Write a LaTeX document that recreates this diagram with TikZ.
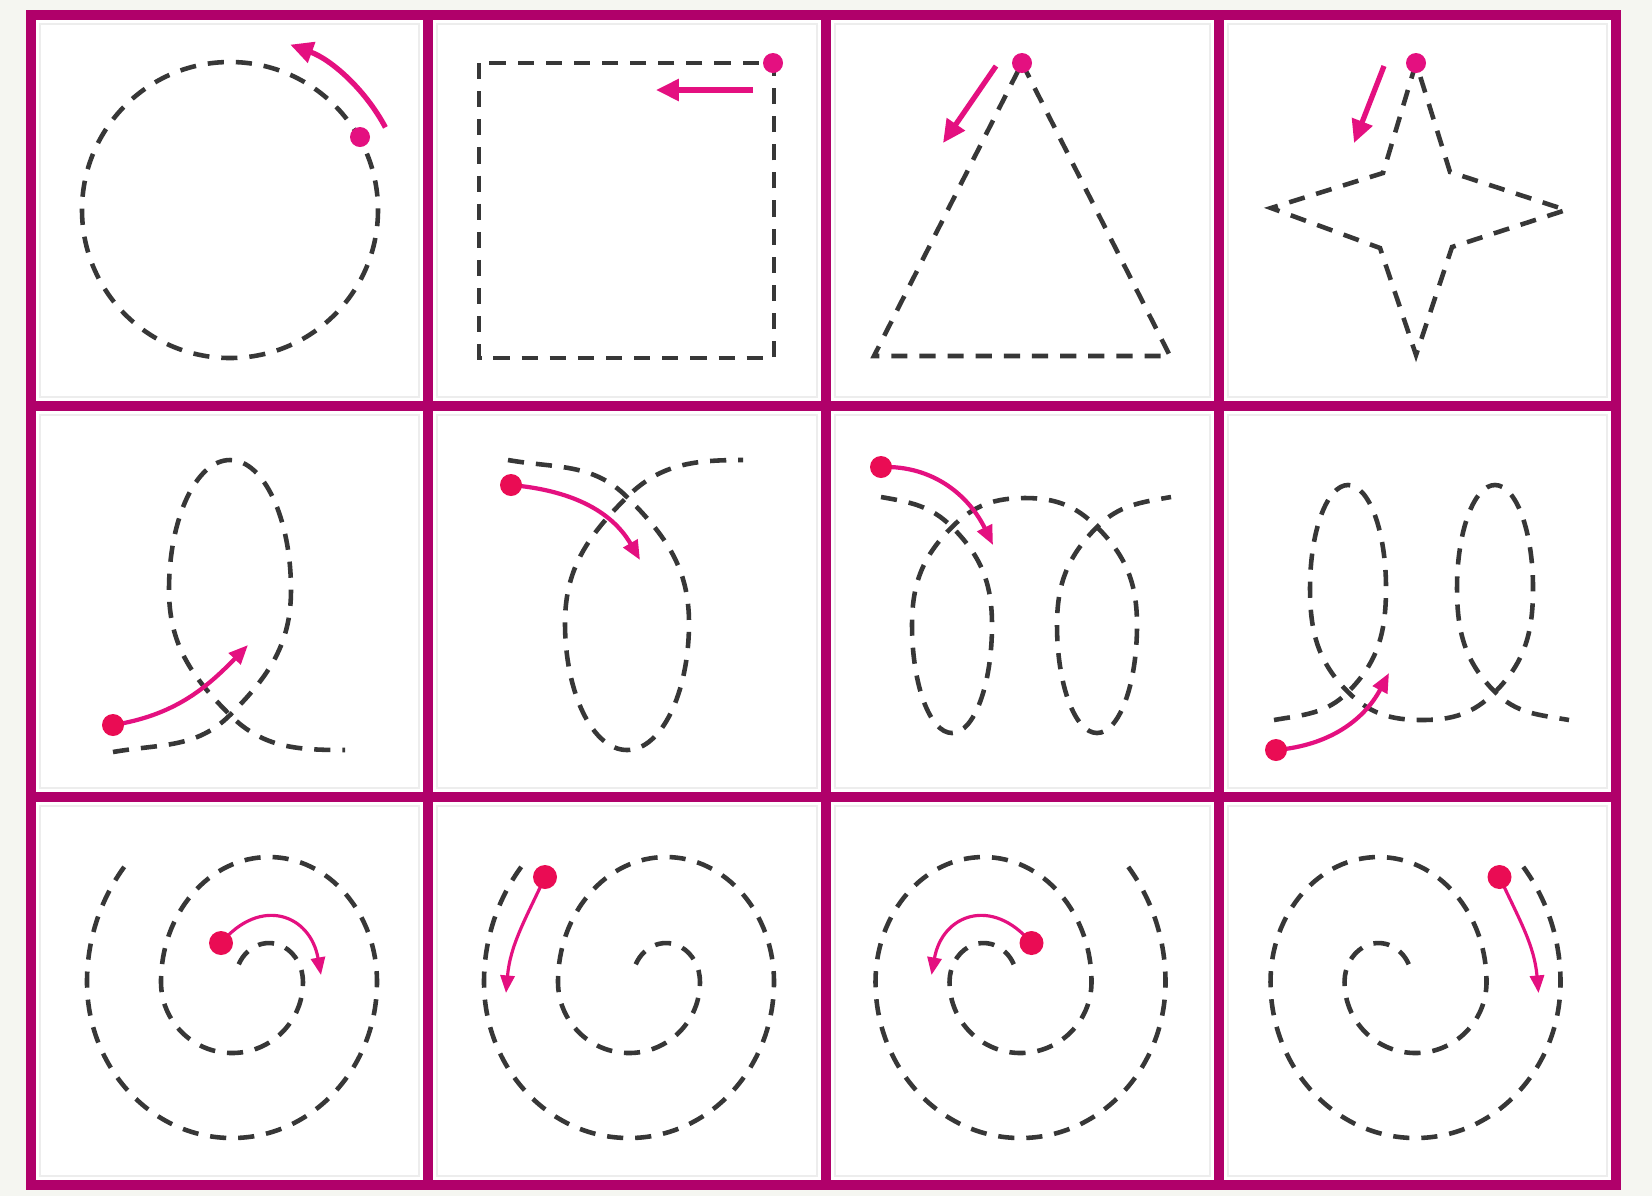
\documentclass[tikz,border=0pt]{standalone}
\usetikzlibrary{arrows.meta}
\definecolor{framemag}{RGB}{176,0,106}
\definecolor{tracegray}{RGB}{55,55,55}
\definecolor{guidepink}{RGB}{228,16,128}
\definecolor{dotred}{RGB}{234,12,84}
\definecolor{paper}{RGB}{245,246,241}

% one spiral, centred on its cell
\newcommand{\spiralpath}{(8.7,-26.7)
  arc[start angle=-153, end angle=0, x radius=34, y radius=39]
  arc[start angle=0, end angle=180, x radius=71, y radius=71]
  arc[start angle=180, end angle=360, x radius=108, y radius=125]
  arc[start angle=0, end angle=180, x radius=145, y radius=156]
  arc[start angle=180, end angle=218, x radius=182, y radius=190]}

\begin{document}
\begin{tikzpicture}[x=0.01cm, y=0.01cm, yscale=-1,
    frame/.style={line width=2.9pt, framemag},
    card/.style={draw=gray!14, line width=0.8pt, fill=white},
    trace/.style={tracegray, line width=1.3pt, dash pattern=on 4.6pt off 3.4pt},
    guide/.style={guidepink, line width=1.5pt, -{Triangle[length=6.5pt, width=6pt]}},
    loopguide/.style={guide, line width=1.2pt, -{Triangle[length=5.5pt, width=4.5pt]}},
    spiralguide/.style={guide, line width=0.9pt, -{Triangle[length=5pt, width=4pt]}},
    startdot/.style={fill=guidepink},
    bigdot/.style={fill=dotred}
]
    \useasboundingbox (0,0) rectangle (1652,1196);
    \fill[paper] (0,0) rectangle (1652,1196);
    \fill[white] (31,15) rectangle (1616,1185);

    % Cells
    \foreach \xa/\xb in {31/428, 428/826, 826/1219, 1219/1616}
      \foreach \ya/\yb in {15/406, 406/797, 797/1185}
        \draw[card] ({\xa+9},{\ya+9}) rectangle ({\xb-9},{\yb-9});

    % Grid
    \draw[frame] (31,15) rectangle (1616,1185);
    \foreach \x in {428,826,1219} \draw[frame] (\x,15) -- (\x,1185);
    \foreach \y in {406,797} \draw[frame] (31,\y) -- (1616,\y);

    % Row 1: circle, square, triangle, star
    \coordinate (c1) at (230,210);
    \draw[trace] (c1) circle[radius=148];
    \draw[guide] (c1) ++(-28:176) arc[start angle=-28, end angle=-70, radius=176];
    \fill[startdot] (360,137) circle[radius=10];

    \draw[trace] (479,63) rectangle (774,358);
    \draw[guide] (753,90) -- (656,90);
    \fill[startdot] (773,63) circle[radius=10];

    \draw[trace] (1022,63) -- (1170,356) -- (874,356) -- cycle;
    \draw[guide] (996,66) -- (943,143);
    \fill[startdot] (1022,63) circle[radius=10];

    \draw[trace] (1416,63) -- (1383,173) -- (1271,208) -- (1380,248) -- (1416,355)
      -- (1452,247) -- (1566,210) -- (1450,172) -- cycle;
    \draw[guide] (1384,66) -- (1354,143);
    \fill[startdot] (1416,63) circle[radius=10];

    % Row 2: loops
    \draw[trace] (113,752) to[out=-10, in=135] (230,715) to[out=-45, in=90] (291,590)
      arc[start angle=0, end angle=-180, x radius=61, y radius=130]
      to[out=90, in=-135] (230,715) to[out=45, in=180] (345,750);
    \draw[loopguide] (113,725) to[out=-9, in=134] (248,645);
    \fill[bigdot] (113,725) circle[radius=11];

    \draw[trace] (508,460) to[out=10, in=-135] (627,497) to[out=45, in=-90] (689,623)
      arc[start angle=0, end angle=180, x radius=62, y radius=127]
      to[out=-90, in=135] (627,497) to[out=-45, in=180] (743,460);
    \draw[loopguide] (511,485) to[out=5, in=-120] (640,560);
    \fill[bigdot] (511,485) circle[radius=11];

    \draw[trace] (881,497) to[out=10, in=-135] (952,527) to[out=45, in=-90] (992,625)
      arc[start angle=0, end angle=180, x radius=40, y radius=108]
      to[out=-90, in=135] (952,527) to[out=-45, in=180] (1025,498)
      to[out=0, in=-135] (1097,527) to[out=45, in=-90] (1137,625)
      arc[start angle=0, end angle=180, x radius=40, y radius=108]
      to[out=-90, in=135] (1097,527) to[out=-45, in=170] (1171,497);
    \draw[loopguide] (881,467) to[out=-2, in=-116] (993,545);
    \fill[bigdot] (881,467) circle[radius=11];

    \draw[trace] (1274,720) to[out=-10, in=135] (1348,692) to[out=-45, in=90] (1386,588)
      arc[start angle=0, end angle=-180, x radius=38, y radius=103]
      to[out=90, in=-135] (1348,692) to[out=45, in=180] (1422,720)
      to[out=0, in=135] (1495,692) to[out=-45, in=90] (1533,588)
      arc[start angle=0, end angle=-180, x radius=38, y radius=103]
      to[out=90, in=-135] (1495,692) to[out=45, in=190] (1569,720);
    \draw[loopguide] (1276,750) to[out=-5, in=118] (1389,673);
    \fill[bigdot] (1276,750) circle[radius=11];

    % Row 3: spirals, start inside
    \foreach \cx/\flip in {230/1, 1022.5/-1} {
      \begin{scope}[shift={(\cx,991)}, xscale=\flip]
        \draw[trace] \spiralpath;
        \draw[spiralguide] (-9,-48) to[out=-50, in=-100, looseness=1.5] (91,-16);
        \fill[bigdot] (-9,-48) circle[radius=12];
      \end{scope}
    }
    % Row 3: spirals, start outside
    \foreach \cx/\flip in {627/1, 1417.5/-1} {
      \begin{scope}[shift={(\cx,991)}, xscale=\flip]
        \draw[trace] \spiralpath;
        \draw[spiralguide] (-82,-114) to[out=115, in=-85] (-121,2);
        \fill[bigdot] (-82,-114) circle[radius=12];
      \end{scope}
    }
\end{tikzpicture}
\end{document}
